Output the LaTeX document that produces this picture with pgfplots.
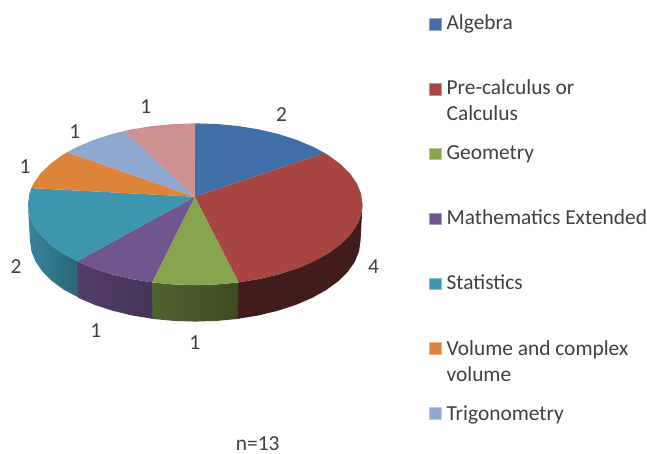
\documentclass[border=0pt]{standalone}
\usepackage{fontspec}
\setmainfont{Carlito}
\usepackage{pgfplots}
\pgfplotsset{compat=1.18}
\definecolor{cblue}{HTML}{3F6FA6}
\definecolor{cred}{HTML}{A64542}
\definecolor{cgreen}{HTML}{87A44E}
\definecolor{cpurple}{HTML}{71558F}
\definecolor{cteal}{HTML}{3D96B0}
\definecolor{corange}{HTML}{DB843A}
\definecolor{clight}{HTML}{8FA8D0}
\definecolor{cpink}{HTML}{CE9090}
\definecolor{txt}{HTML}{404040}
\newcommand{\fs}{\fontsize{21.5}{25}\selectfont\color{txt}}
\begin{document}
\begin{tikzpicture}
\begin{axis}[
  width=647bp,height=454bp,scale only axis,hide axis,
  xmin=0,xmax=647,ymin=0,ymax=454,y dir=reverse,clip=false
]
\path[fill=white] (axis cs:0,0) rectangle (axis cs:647,454);
% side walls
\addplot[draw=none,left color=cteal!88!black,right color=cteal!68!black] coordinates {
 (28,204.5)(29.44,215.07)(33.71,225.46)(40.75,235.5)(50.44,245)(62.61,253.81)(78,261.78)
 (79.5,298.28)(64.2,290.31)(52.18,281.5)(42.61,272)(35.65,262)(31.43,251.57)(30,241)(28,204.5)};
\addplot[draw=none,left color=cgreen!60!black,right color=cgreen!45!black] coordinates {
 (151,282.74)(173.64,284.8)(195.5,285.5)(217.36,284.8)(240,282.74)
 (239.5,319.24)(217.1,321.3)(195.5,322)(173.9,321.3)(151.5,319.24)(151,282.74)};
\addplot[draw=none,left color=cpurple!72!black,right color=cpurple!62!black] coordinates {
 (77.06,261.78)(93.53,268.77)(111.75,274.65)(131.4,279.34)(152.15,282.74)
 (152.67,319.24)(132.17,315.84)(112.76,311.15)(94.75,305.27)(78.48,298.28)(77.06,261.78)};
\addplot[draw=none,fill=cred!40!black] coordinates {
 (238.85,282.74)(259.6,279.34)(279.25,274.65)(297.47,268.77)(313.94,261.78)(328.39,253.81)(340.56,245)(350.25,235.5)(357.29,225.46)(361.56,215.07)(363,204.5)
 (361,241)(359.57,251.57)(355.35,262)(348.39,272)(338.82,281.5)(326.8,290.31)(312.52,298.28)(296.25,305.27)(278.24,311.15)(258.83,315.84)(238.33,319.24)(238.85,282.74)};
% top faces
\addplot[draw=none,fill=cblue] coordinates {
 (195,197)(195.5,123.5)(217.36,124.2)(238.85,126.26)(259.6,129.66)(279.25,134.35)(297.47,140.23)(313.94,147.22)(325,153.1)(195,197)};
\addplot[draw=none,fill=cred] coordinates {
 (195,197)(325,153.1)(328.39,155.19)(340.56,164)(350.25,173.5)(357.29,183.54)(361.56,193.93)(363,204.5)(361.56,215.07)(357.29,225.46)(350.25,235.5)(340.56,245)(328.39,253.81)(313.94,261.78)(297.47,268.77)(279.25,274.65)(259.6,279.34)(238.85,282.74)(195,197)};
\addplot[draw=none,fill=cgreen] coordinates {
 (195,197)(238.85,282.74)(217.36,284.8)(195.5,285.5)(173.64,284.8)(152.15,282.74)(195,197)};
\addplot[draw=none,fill=cpurple] coordinates {
 (195,197)(152.15,282.74)(131.4,279.34)(111.75,274.65)(93.53,268.77)(77.06,261.78)(195,197)};
\addplot[draw=none,fill=cteal] coordinates {
 (195,197)(77.06,261.78)(62.61,253.81)(50.44,245)(40.75,235.5)(33.71,225.46)(29.44,215.07)(28,204.5)(29.44,193.93)(31.4,188.35)(195,197)};
\addplot[draw=none,fill=corange] coordinates {
 (195,197)(31.4,188.35)(33.71,183.54)(40.75,173.5)(50.44,164)(62.61,155.19)(67.2,152.4)(195,197)};
\addplot[draw=none,fill=clight] coordinates {
 (195,197)(67.2,152.4)(77.06,147.22)(93.53,140.23)(111.75,134.35)(124.7,131.1)(195,197)};
\addplot[draw=none,fill=cpink] coordinates {
 (195,197)(124.7,131.1)(131.4,129.66)(152.15,126.26)(173.64,124.2)(195.5,123.5)(195,197)};
% legend keys
\addplot[only marks,mark=square*,mark size=5.9pt,mark options={fill=cblue,draw=cblue!60!white,line width=.4pt}] coordinates {(435.5,24)};
\addplot[only marks,mark=square*,mark size=5.9pt,mark options={fill=cred,draw=cred!60!white,line width=.4pt}] coordinates {(435.5,89)};
\addplot[only marks,mark=square*,mark size=5.9pt,mark options={fill=cgreen,draw=cgreen!60!white,line width=.4pt}] coordinates {(435.5,154)};
\addplot[only marks,mark=square*,mark size=5.9pt,mark options={fill=cpurple,draw=cpurple!60!white,line width=.4pt}] coordinates {(435.5,219)};
\addplot[only marks,mark=square*,mark size=5.9pt,mark options={fill=cteal,draw=cteal!60!white,line width=.4pt}] coordinates {(435.5,284)};
\addplot[only marks,mark=square*,mark size=5.9pt,mark options={fill=corange,draw=corange!60!white,line width=.4pt}] coordinates {(435.5,349)};
\addplot[only marks,mark=square*,mark size=5.9pt,mark options={fill=clight,draw=clight!60!white,line width=.4pt}] coordinates {(435.5,414)};
% legend text
\node[anchor=base west,inner sep=0pt] at (axis cs:447,30) {\fs Algebra};
\node[anchor=base west,inner sep=0pt] at (axis cs:447,95) {\fs Pre-calculus or};
\node[anchor=base west,inner sep=0pt] at (axis cs:447,121) {\fs Calculus};
\node[anchor=base west,inner sep=0pt] at (axis cs:447,160) {\fs Geometry};
\node[anchor=base west,inner sep=0pt] at (axis cs:447,225) {\fs Mathematics Extended};
\node[anchor=base west,inner sep=0pt] at (axis cs:447,290) {\fs Statistics};
\node[anchor=base west,inner sep=0pt] at (axis cs:447,356) {\fs Volume and complex};
\node[anchor=base west,inner sep=0pt] at (axis cs:447,382) {\fs volume};
\node[anchor=base west,inner sep=0pt] at (axis cs:447,421) {\fs Trigonometry};
% value labels
\node[inner sep=0pt] at (axis cs:282,115) {\fs 2};
\node[inner sep=0pt] at (axis cs:374,267) {\fs 4};
\node[inner sep=0pt] at (axis cs:195,343) {\fs 1};
\node[inner sep=0pt] at (axis cs:96,331) {\fs 1};
\node[inner sep=0pt] at (axis cs:16,267) {\fs 2};
\node[inner sep=0pt] at (axis cs:25,167) {\fs 1};
\node[inner sep=0pt] at (axis cs:75,132) {\fs 1};
\node[inner sep=0pt] at (axis cs:146,107) {\fs 1};
\node[inner sep=0pt] at (axis cs:258,444) {\fs n=13};
\end{axis}
\end{tikzpicture}
\end{document}
